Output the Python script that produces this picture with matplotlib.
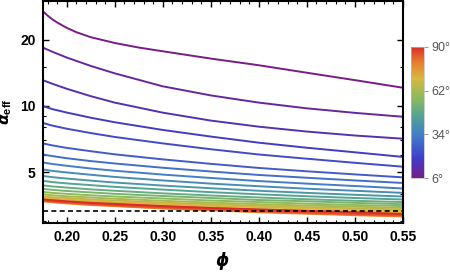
import matplotlib
matplotlib.use("Agg")
from matplotlib import pyplot as plt
from matplotlib.colors import LinearSegmentedColormap, Normalize
import matplotlib.cm as cm
import matplotlib.ticker as mtick

plt.rcParams['font.family'] = ['Liberation Sans', 'DejaVu Sans']
plt.rcParams['mathtext.fontset'] = 'custom'
plt.rcParams['mathtext.rm'] = 'Liberation Sans:bold'
plt.rcParams['mathtext.it'] = 'DejaVu Sans:bold:italic'

# top curve (6 deg) was read on a finer grid, it bends hard at the start
phi_top = [0.175, 0.18, 0.185, 0.19, 0.20, 0.21, 0.225, 0.25, 0.275,
           0.30, 0.35, 0.40, 0.45, 0.50, 0.55]
alpha_top = [26.9, 25.7, 24.7, 23.9, 22.6, 21.6, 20.5, 19.3, 18.4,
             17.7, 16.4, 15.3, 14.15, 13.1, 12.1]

# phi grid for the other curves
phi = [0.175, 0.185, 0.20, 0.225, 0.25, 0.30, 0.35, 0.40, 0.45, 0.50, 0.55]

# angle of each of the other curves (deg)
angles = [10, 14, 18, 22, 26, 30, 34, 38, 42, 46,
          50, 54, 58, 62, 66, 70, 74, 78, 82, 86, 90]

# alpha_eff, one row per angle
alpha = [
    [18.4, 17.61, 16.58, 15.19, 14.06, 12.28, 11.17, 10.36, 9.76, 9.31, 8.94],
    [13.1, 12.61, 11.97, 11.08, 10.36, 9.33, 8.59, 8.06, 7.66, 7.35, 7.11],
    [10.0, 9.68, 9.34, 8.85, 8.44, 7.79, 7.27, 6.82, 6.47, 6.17, 5.88],
    [8.38, 8.15, 7.89, 7.54, 7.24, 6.77, 6.37, 6.03, 5.77, 5.53, 5.31],
    [6.77, 6.63, 6.46, 6.24, 6.04, 5.73, 5.47, 5.24, 5.06, 4.90, 4.75],
    [6.03, 5.93, 5.80, 5.63, 5.49, 5.25, 5.05, 4.87, 4.73, 4.60, 4.48],
    [5.55, 5.46, 5.36, 5.21, 5.09, 4.89, 4.72, 4.57, 4.45, 4.34, 4.23],
    [5.16, 5.08, 5.00, 4.88, 4.77, 4.60, 4.45, 4.33, 4.22, 4.13, 4.04],
    [4.82, 4.76, 4.69, 4.59, 4.50, 4.36, 4.24, 4.13, 4.04, 3.96, 3.89],
    [4.58, 4.52, 4.46, 4.38, 4.30, 4.18, 4.07, 3.98, 3.90, 3.83, 3.77],
    [4.37, 4.32, 4.27, 4.19, 4.13, 4.02, 3.93, 3.85, 3.78, 3.72, 3.67],
    [4.21, 4.17, 4.12, 4.06, 4.00, 3.91, 3.83, 3.75, 3.70, 3.64, 3.59],
    [4.08, 4.04, 4.00, 3.94, 3.89, 3.81, 3.73, 3.67, 3.61, 3.56, 3.52],
    [3.98, 3.94, 3.90, 3.85, 3.80, 3.72, 3.65, 3.59, 3.54, 3.50, 3.45],
    [3.89, 3.86, 3.83, 3.77, 3.73, 3.65, 3.59, 3.53, 3.48, 3.44, 3.40],
    [3.83, 3.80, 3.77, 3.71, 3.67, 3.60, 3.53, 3.48, 3.43, 3.39, 3.35],
    [3.77, 3.74, 3.70, 3.65, 3.61, 3.53, 3.47, 3.41, 3.36, 3.32, 3.28],
    [3.70, 3.66, 3.62, 3.56, 3.52, 3.43, 3.37, 3.30, 3.25, 3.20, 3.16],
    [3.72, 3.68, 3.64, 3.58, 3.53, 3.45, 3.38, 3.32, 3.27, 3.22, 3.18],
    [3.74, 3.71, 3.67, 3.61, 3.56, 3.48, 3.41, 3.35, 3.30, 3.25, 3.21],
    [3.77, 3.74, 3.70, 3.64, 3.60, 3.52, 3.45, 3.40, 3.35, 3.30, 3.24],
]

alpha_ref = 3.36  # dashed line
cbar_ticks = [6, 34, 62, 90]

# rainbow like the mathematica one
rainbow = LinearSegmentedColormap.from_list('rainbow_m', [
    (0.00, (0.471, 0.110, 0.527)),
    (0.15, (0.255, 0.235, 0.785)),
    (0.32, (0.255, 0.480, 0.790)),
    (0.47, (0.320, 0.640, 0.590)),
    (0.62, (0.560, 0.730, 0.360)),
    (0.76, (0.840, 0.720, 0.250)),
    (0.88, (0.900, 0.500, 0.180)),
    (1.00, (0.860, 0.170, 0.150)),
])
norm = Normalize(6, 90)

fig = plt.figure(figsize=(4.5, 2.72), dpi=100)
ax = fig.add_axes([0.0949, 0.1801, 0.8, 0.8162])

ax.plot(phi_top, alpha_top, color=rainbow(norm(6)), lw=1.4)
for ang, row in zip(angles, alpha):
    ax.plot(phi, row, color=rainbow(norm(ang)), lw=1.4)

ax.axhline(alpha_ref, color='black', lw=1.2, dashes=(3, 2))

ax.set_yscale('log')
ax.set_xlim(0.175, 0.55)
ax.set_ylim(2.95, 29.9)

ax.yaxis.set_major_locator(mtick.FixedLocator([5, 10, 20]))
ax.yaxis.set_major_formatter(mtick.FixedFormatter(['5', '10', '20']))
ax.yaxis.set_minor_locator(mtick.FixedLocator([3, 4, 6, 7, 8, 9, 15]))
ax.yaxis.set_minor_formatter(mtick.NullFormatter())
ax.xaxis.set_major_locator(mtick.MultipleLocator(0.05))
ax.xaxis.set_minor_locator(mtick.MultipleLocator(0.01))
ax.xaxis.set_major_formatter(mtick.FormatStrFormatter('%.2f'))

ax.tick_params(which='both', direction='in', top=True, right=True)
ax.tick_params(which='major', length=4, width=1.0, labelsize=10, pad=5)
ax.tick_params(which='minor', length=2, width=0.8)
for lab in ax.get_xticklabels() + ax.get_yticklabels():
    lab.set_fontweight('bold')
for s in ax.spines.values():
    s.set_linewidth(1.5)

ax.set_xlabel(r'$\phi$', fontsize=12, labelpad=4)
ax.set_ylabel(r'$\alpha_{\mathrm{eff}}$', fontsize=11.5)
ax.yaxis.set_label_coords(-0.079, 0.5)

cax = fig.add_axes([0.9133, 0.3445, 0.0296, 0.4838])
sm = cm.ScalarMappable(norm=norm, cmap=rainbow)
cb = fig.colorbar(sm, cax=cax, ticks=cbar_ticks)
cb.ax.set_yticklabels([f'{t}°' for t in cbar_ticks])
cb.outline.set_edgecolor('#bbbbbb')
cb.outline.set_linewidth(0.5)
cb.ax.tick_params(length=3, width=0.6, color='#888888', labelcolor='#555555',
                  labelsize=9, pad=2)

fig.savefig('out.png', dpi=100)
